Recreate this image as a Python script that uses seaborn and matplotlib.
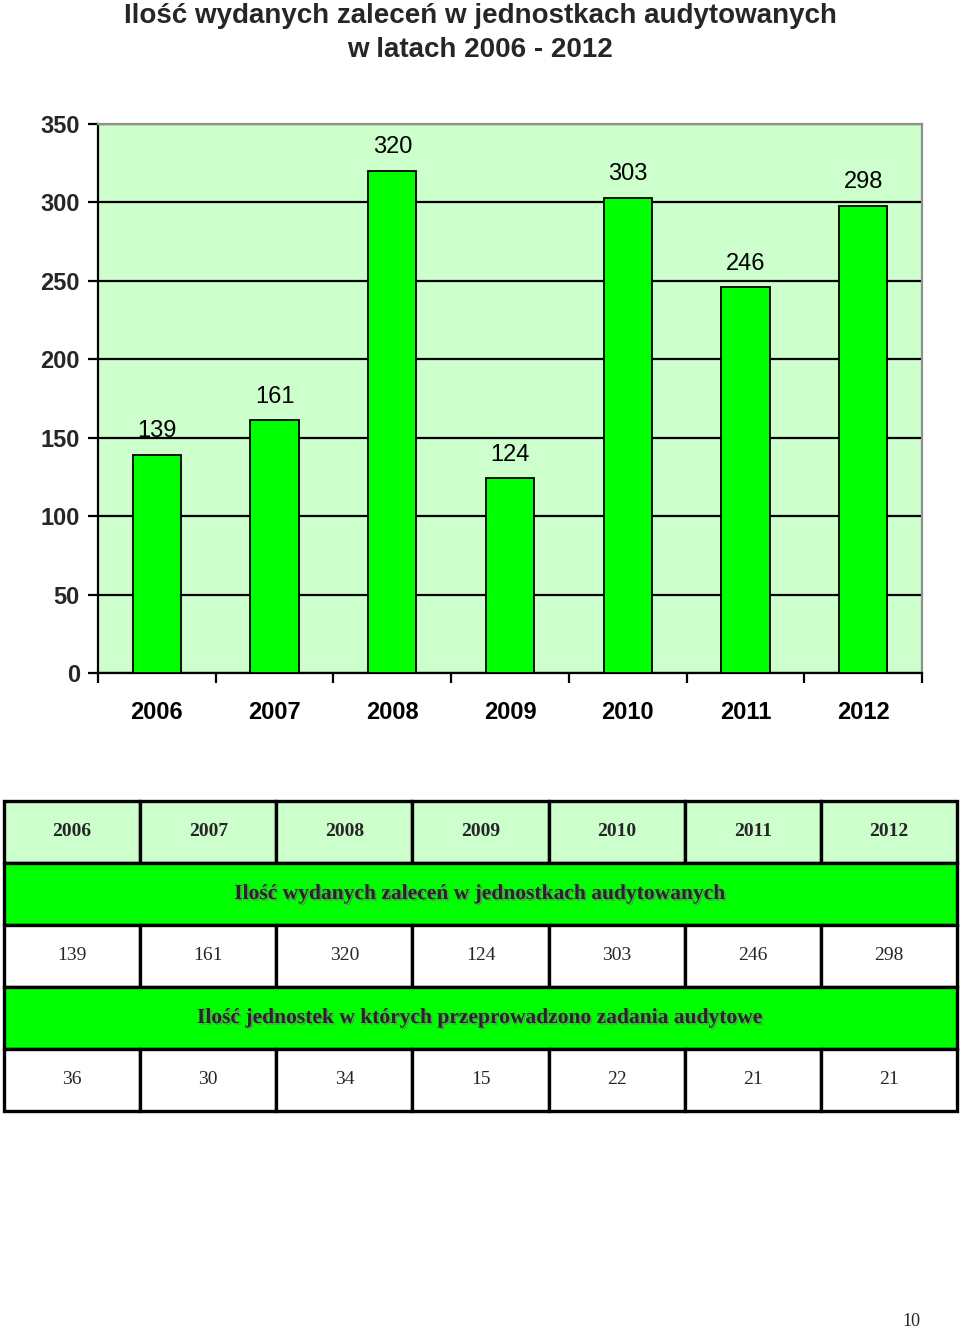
import matplotlib
matplotlib.use("Agg")
import matplotlib.pyplot as plt
import matplotlib.patheffects as pe
from matplotlib.patches import Rectangle
import seaborn as sns
import pandas as pd
import numpy as np

years = ["2006", "2007", "2008", "2009", "2010", "2011", "2012"]
recommendations = [139, 161, 320, 124, 303, 246, 298]
units = [36, 30, 34, 15, 22, 21, 21]
yticks = [0, 50, 100, 150, 200, 250, 300, 350]
title = "Ilość wydanych zaleceń w jednostkach audytowanych\nw latach 2006 - 2012"
row_label_1 = "Ilość wydanych zaleceń w jednostkach audytowanych"
row_label_2 = "Ilość jednostek w których przeprowadzono zadania audytowe"
page_number = "10"

sns.set_theme(style="white")
plt.rcParams["font.family"] = ["Liberation Sans", "DejaVu Sans"]

W, H = 960, 1330
fig = plt.figure(figsize=(W / 100, H / 100), dpi=100)

def fx(px):
    return px / W

def fy(py):
    return 1 - py / H

# ---- Bar chart ----
ax = fig.add_axes([fx(98), fy(673), fx(922) - fx(98), fy(124) - fy(673)])
df = pd.DataFrame({"year": years, "value": recommendations})
sns.barplot(data=df, x="year", y="value", ax=ax, color="#00FF00", width=0.41,
            edgecolor="black", linewidth=1.3, saturation=1, zorder=3)
ax.set_facecolor("#CCFFCC")
ax.set_xlim(-0.5, len(years) - 0.5)
ax.set_ylim(0, 350)
ax.set_yticks(yticks)
ax.set_yticklabels([str(t) for t in yticks], fontsize=17, fontweight="bold")
ax.yaxis.grid(True, color="black", linewidth=1.6, zorder=1)
ax.set_axisbelow(True)
ax.set_xlabel("")
ax.set_ylabel("")
ax.set_xticks(range(len(years)))
ax.set_xticklabels(years, fontsize=17, fontweight="bold")
ax.tick_params(axis="x", which="major", length=0, pad=20, colors="black")
ax.set_xticks(np.arange(-0.5, len(years), 1.0), minor=True)
ax.tick_params(axis="x", which="minor", length=7, width=1.6, color="black", bottom=True)
ax.tick_params(axis="y", length=7, width=1.6, color="black", left=True, pad=6)
for s in ["left", "bottom"]:
    ax.spines[s].set_color("black")
    ax.spines[s].set_linewidth(1.6)
for s in ["top", "right"]:
    ax.spines[s].set_color("#909090")
    ax.spines[s].set_linewidth(1.6)
for i, v in enumerate(recommendations):
    ax.annotate(str(v), (i, v), xytext=(0, 17), textcoords="offset points",
                ha="center", va="center", fontsize=17, color="black")

# ---- Title ----
fig.text(0.5, fy(33), title, ha="center", va="center", fontsize=20, fontweight="bold",
         family=["Liberation Sans", "DejaVu Sans"], linespacing=1.4)

# ---- Table ----
tx0, tx1 = 4, 957
ty = [801, 863, 925, 987, 1049, 1111]
ncol = len(years)
cw = (tx1 - tx0) / ncol
serif = ["Liberation Serif", "DejaVu Serif"]
shadow = [pe.SimplePatchShadow(offset=(1.2, -1.2), shadow_rgbFace="#777777", alpha=0.8), pe.Normal()]

def rect(x0, y0, x1, y1, fc):
    fig.patches.append(Rectangle((fx(x0), fy(y1)), fx(x1) - fx(x0), fy(y0) - fy(y1),
                                 transform=fig.transFigure, facecolor=fc,
                                 edgecolor="black", linewidth=2.4, zorder=1))

def cell_row(r, fc, labels, bold):
    for c, lab in enumerate(labels):
        x0 = tx0 + c * cw
        rect(x0, ty[r], x0 + cw, ty[r + 1], fc)
        fig.text(fx(x0 + cw / 2), fy((ty[r] + ty[r + 1]) / 2), lab, ha="center", va="center",
                 fontsize=14, fontweight="bold" if bold else "normal", family=serif, zorder=3)

def span_row(r, fc, label):
    rect(tx0, ty[r], tx1, ty[r + 1], fc)
    fig.text(0.5, fy((ty[r] + ty[r + 1]) / 2), label, ha="center", va="center",
             fontsize=15.5, fontweight="bold", family=serif, zorder=3, path_effects=shadow)

cell_row(0, "#CCFFCC", years, True)
span_row(1, "#00FF00", row_label_1)
cell_row(2, "white", [str(v) for v in recommendations], False)
span_row(3, "#00FF00", row_label_2)
cell_row(4, "white", [str(v) for v in units], False)

fig.text(fx(911), fy(1321), page_number, ha="center", va="center", fontsize=13, family=serif)

fig.savefig("out.png", dpi=100, facecolor="white")
